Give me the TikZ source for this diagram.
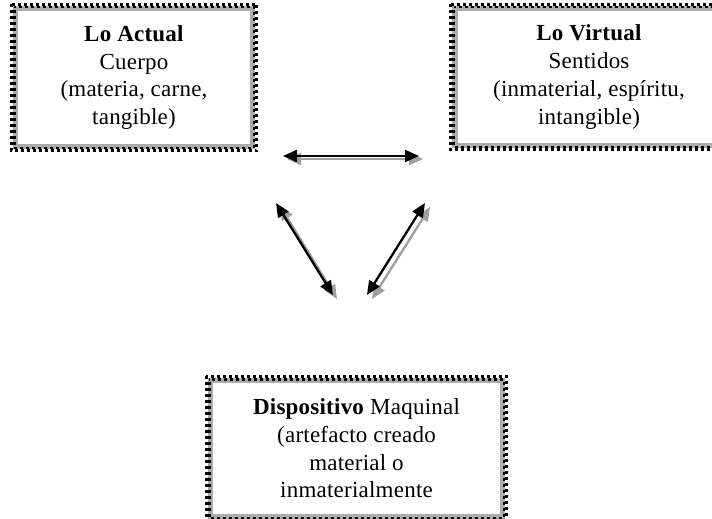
\documentclass[tikz,border=0pt]{standalone}
\usepackage{fontspec}
\setmainfont{Liberation Serif}[LetterSpace=1]
\usetikzlibrary{arrows.meta}
\tikzset{
  box/.style={draw=gray!65, line width=5.6pt, rectangle, align=center,
    font=\fontsize{23}{27.7}\selectfont, inner sep=0pt},
  chkA/.style={draw=black, line width=2.8pt, dash pattern=on 3pt off 3pt},
  chkB/.style={draw=black, line width=2.8pt, dash pattern=on 3pt off 3pt, dash phase=3pt},
  arr/.style={draw=black, line width=2.3pt, {Triangle[length=14pt,width=12pt]}-{Triangle[length=14pt,width=12pt]}},
  shad/.style={draw=gray!75, line width=2.3pt, {Triangle[length=14pt,width=12pt]}-{Triangle[length=14pt,width=12pt]}}
}
\newcommand{\checkerbox}[1]{%
  \path[chkA] ([shift={(-1.4pt,1.4pt)}]#1.north west) rectangle ([shift={(1.4pt,-1.4pt)}]#1.south east);
  \path[chkB] ([shift={(1.4pt,-1.4pt)}]#1.north west) rectangle ([shift={(-1.4pt,1.4pt)}]#1.south east);
}
\begin{document}
\begin{tikzpicture}[x=1pt,y=-1pt]
\useasboundingbox (0,0) rectangle (712,519);
\fill[white] (0,0) rectangle (712,519);
% boxes
\node[box, minimum width=237pt, minimum height=138pt] (act) at (134,77.5)
  {\textbf{Lo Actual}\\Cuerpo\\(materia, carne,\\tangible)};
\node[box, minimum width=268pt, minimum height=137pt] (vir) at (589,77)
  {\textbf{Lo Virtual}\\Sentidos\\(inmaterial, espíritu,\\intangible)};
\node[box, minimum width=292pt, minimum height=136pt] (dis) at (356.5,448.5)
  {\textbf{Dispositivo} Maquinal\\(artefacto creado\\material o\\inmaterialmente};
\checkerbox{act}
\checkerbox{vir}
\checkerbox{dis}
% arrow end coordinates
\coordinate (t1) at (283,156); \coordinate (t2) at (419,156);
\coordinate (t1s) at (287,159); \coordinate (t2s) at (423,159);
\coordinate (l1) at (276,203); \coordinate (l2) at (333,295);
\coordinate (l1s) at (280,206); \coordinate (l2s) at (337,299);
\coordinate (r1) at (425,203); \coordinate (r2) at (367,295);
\coordinate (r1s) at (430,207); \coordinate (r2s) at (372,299);
% shadows
\draw[shad] (t1s) -- (t2s);
\draw[shad] (l1s) -- (l2s);
\draw[shad] (r1s) -- (r2s);
% arrows
\draw[arr] (t1) -- (t2);
\draw[arr] (l1) -- (l2);
\draw[arr] (r1) -- (r2);
\end{tikzpicture}
\end{document}
